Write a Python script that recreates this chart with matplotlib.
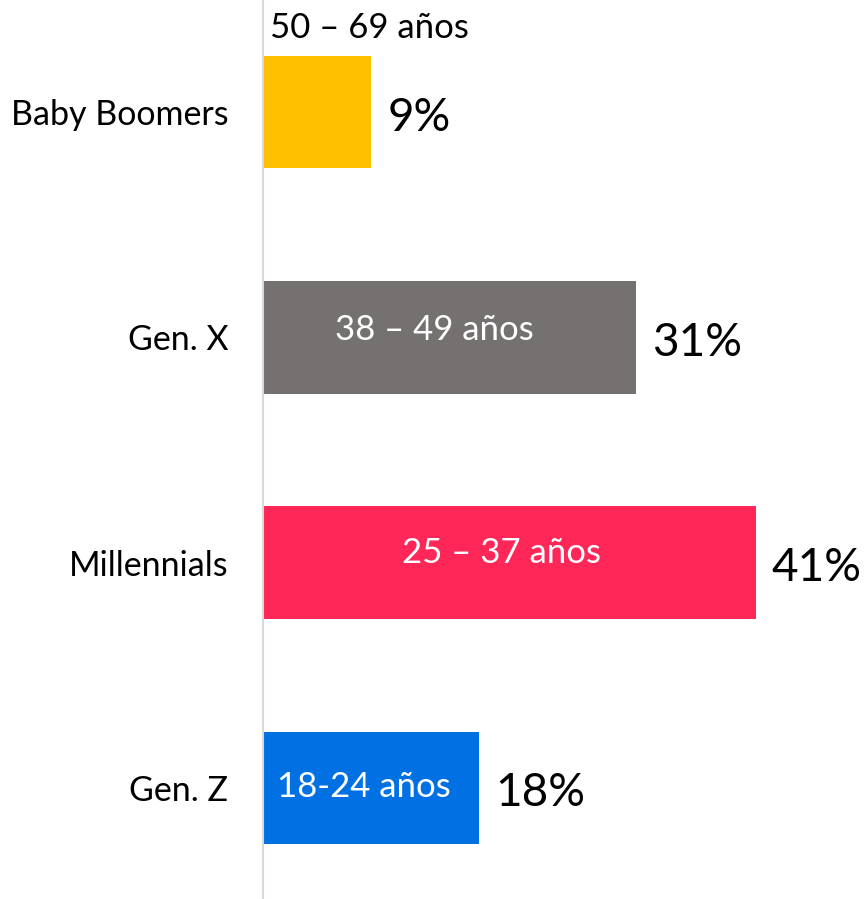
import matplotlib.pyplot as plt

plt.rcParams['font.family'] = ['Lato', 'DejaVu Sans']

generaciones = ['Gen. Z', 'Millennials', 'Gen. X', 'Baby Boomers']
porcentajes = [18, 41, 31, 9]
rangos = ['18-24 años', '25 – 37 años', '38 – 49 años', '50 – 69 años']
colores = ['#0070E3', '#FF2758', '#767171', '#FFC000']

fig = plt.figure(figsize=(8.67, 8.99), dpi=100)
ax = fig.add_axes([263 / 867, 0, 604 / 867, 1])

y = range(len(generaciones))
bars = ax.barh(y, porcentajes, height=0.5, color=colores)

ax.set_xlim(0, 50.25)
ax.set_ylim(-0.493, 3.497)

for s in ['top', 'right', 'bottom']:
    ax.spines[s].set_visible(False)
ax.spines['left'].set_color('#D9D9D9')
ax.spines['left'].set_linewidth(1.5)
ax.set_xticks([])
ax.set_yticks(list(y))
ax.set_yticklabels(generaciones, fontsize=24.5)
ax.tick_params(axis='y', length=0, pad=25)

# porcentajes a la derecha de cada barra
for i, v in enumerate(porcentajes):
    ax.annotate(f'{v}%', (v, i), xytext=(11.5, -4), textcoords='offset points',
                ha='left', va='center', fontsize=33, color='black')

# rangos de edad
ax.annotate(rangos[0], (0, 0), xytext=(10, 1), textcoords='offset points',
            ha='left', va='center', fontsize=25, color='white')
ax.annotate(rangos[1], (porcentajes[1] / 2, 1), xytext=(-6, 7), textcoords='offset points',
            ha='center', va='center', fontsize=25, color='white')
ax.annotate(rangos[2], (porcentajes[2] / 2, 2), xytext=(-11, 5), textcoords='offset points',
            ha='center', va='center', fontsize=25, color='white')
ax.annotate(rangos[3], (0, 3.25), xytext=(5, 20), textcoords='offset points',
            ha='left', va='center', fontsize=25, color='black')

fig.savefig('out.png', dpi=100)
